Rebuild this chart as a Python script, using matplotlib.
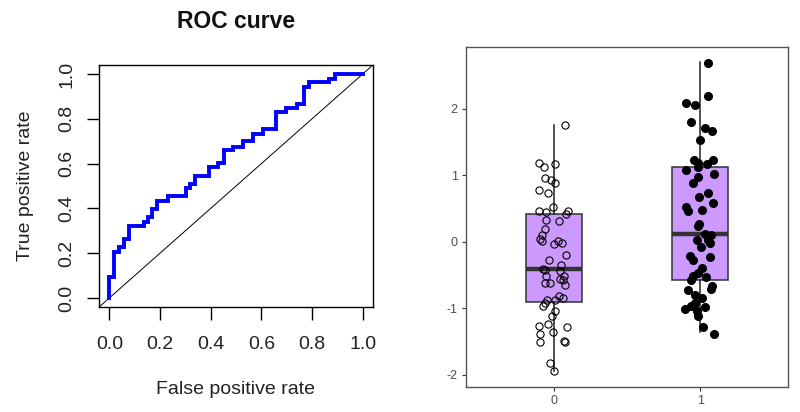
import numpy as np
import matplotlib
matplotlib.use("Agg")
import matplotlib.pyplot as plt

plt.rcParams['font.family'] = ['Liberation Sans', 'DejaVu Sans']

# ROC curve corners (steps-pre)
fpr = [0, 0.017, 0.037, 0.056, 0.076, 0.135, 0.151, 0.168, 0.188, 0.23,
       0.302, 0.319, 0.339, 0.395, 0.43, 0.453, 0.49, 0.529, 0.568, 0.605,
       0.657, 0.697, 0.739, 0.769, 0.789, 0.867, 0.89, 1.0]
tpr = [0, 0.092, 0.204, 0.226, 0.263, 0.32, 0.338, 0.36, 0.397, 0.434,
       0.454, 0.491, 0.509, 0.546, 0.583, 0.603, 0.661, 0.676, 0.702, 0.732,
       0.754, 0.829, 0.848, 0.866, 0.94, 0.963, 0.978, 1.0]
roc_ticks = [0.0, 0.2, 0.4, 0.6, 0.8, 1.0]

# boxplot groups
groups = ['0', '1']
box_q1 = [-0.91, -0.57]
box_med = [-0.41, 0.115]
box_q3 = [0.42, 1.13]
box_lo = [-1.94, -1.36]
box_hi = [1.75, 2.70]

g0_y = [1.755, 1.18, 1.12, 1.165, 0.955, 0.93, 0.89, 0.78, 0.73, 0.52,
        0.47, 0.445, 0.47, 0.42, 0.33, 0.315, 0.19, 0.105, 0.04, 0.02,
        0.02, -0.03, -0.02, -0.195, -0.28, -0.345, -0.41, -0.43, -0.445, -0.51,
        -0.52, -0.56, -0.58, -0.62, -0.62, -0.645, -0.81, -0.845, -0.88, -0.88,
        -0.92, -0.96, -1.045, -1.11, -1.23, -1.26, -1.285, -1.36, -1.385, -1.505,
        -1.485, -1.505, -1.82, -1.935]
g0_dx = [0.075, -0.10, -0.068, 0.011, -0.061, -0.016, 0.011, -0.10, -0.039, -0.005,
         -0.10, -0.052, 0.095, 0.086, -0.052, 0.034, -0.057, -0.079, -0.091, -0.079,
         0.027, 0.0, 0.057, 0.084, -0.034, 0.052, -0.075, -0.057, 0.045, -0.052,
         0.068, 0.045, 0.061, -0.057, -0.023, 0.079, 0.034, 0.063, 0.007, -0.045,
         -0.061, -0.075, 0.007, -0.011, -0.039, -0.10, 0.091, -0.005, -0.091, -0.091,
         0.068, 0.075, -0.029, 0.0]

g1_y = [2.69, 2.19, 2.095, 2.055, 1.805, 1.705, 1.67, 1.53, 1.23, 1.18,
        1.165, 1.23, 1.13, 1.08, 1.02, 0.98, 0.89, 0.73, 0.68, 0.58,
        0.52, 0.47, 0.48, 0.265, 0.24, 0.12, 0.105, 0.03, 0.03, -0.01,
        -0.07, -0.22, -0.27, -0.23, -0.395, -0.47, -0.51, -0.535, -0.58, -0.66,
        -0.72, -0.71, -0.845, -0.92, -0.97, -1.01, -0.98, -1.045, -1.11, -1.28,
        -1.38, -0.795]
g1_dx = [0.05, 0.05, -0.10, -0.032, -0.063, 0.036, 0.082, 0.0, -0.045, -0.018,
         0.045, 0.088, -0.014, -0.10, 0.095, -0.018, -0.048, 0.054, -0.007, 0.088,
         -0.10, -0.086, 0.014, -0.009, -0.018, 0.032, 0.077, -0.025, 0.054, 0.066,
         0.009, -0.07, -0.052, 0.066, 0.014, -0.018, -0.048, 0.039, -0.063, 0.082,
         -0.086, 0.073, 0.014, -0.032, -0.063, -0.104, 0.036, -0.025, -0.018, 0.02,
         0.095, -0.032]
box_yticks = [-2, -1, 0, 1, 2]

fig = plt.figure(figsize=(8, 4.12), dpi=100)

# ---- left: ROC curve
ax = fig.add_axes([0.124, 0.255, 0.342, 0.587])
ax.plot([-0.04, 1.04], [-0.04, 1.04], color='black', lw=0.7)
ax.plot(fpr, tpr, drawstyle='steps-pre', color='#0000ff', lw=2.8, solid_joinstyle='miter')
ax.set_xlim(-0.04, 1.04)
ax.set_ylim(-0.04, 1.04)
ax.set_xticks(roc_ticks)
ax.set_yticks(roc_ticks)
ax.set_xticklabels(['%.1f' % t for t in roc_ticks])
ax.set_yticklabels(['%.1f' % t for t in roc_ticks], rotation=90, va='center')
ax.tick_params(length=9, width=1, labelsize=14, colors='black', labelcolor='#222222')
ax.tick_params(axis='x', pad=12)
ax.tick_params(axis='y', pad=8)
for s in ax.spines.values():
    s.set_linewidth(1)
ax.set_title('ROC curve', fontsize=16.5, fontweight='bold', pad=27, color='#111111')
ax.set_xlabel('False positive rate', fontsize=14, labelpad=20, color='#222222')
ax.set_ylabel('True positive rate', fontsize=14, labelpad=18, color='#222222')

# ---- right: boxplot with jittered points
bx = fig.add_axes([0.5825, 0.061, 0.4025, 0.825])
stats = []
for i in range(len(groups)):
    stats.append(dict(med=box_med[i], q1=box_q1[i], q3=box_q3[i],
                      whislo=box_lo[i], whishi=box_hi[i], fliers=[]))
bx.bxp(stats, positions=[0, 1], widths=0.38, patch_artist=True, showcaps=False,
       boxprops=dict(facecolor='#cc99ff', edgecolor='#333333', lw=1.1),
       medianprops=dict(color='#333333', lw=3.2),
       whiskerprops=dict(color='#222222', lw=1.1))
bx.plot(np.array(g0_dx), g0_y, 'o', ms=5.2, mfc='none', mec='black', mew=0.8, zorder=5)
bx.plot(1 + np.array(g1_dx), g1_y, 'o', ms=5.5, mfc='black', mec='black', zorder=5)
bx.set_xlim(-0.6, 1.6)
bx.set_ylim(-2.18, 2.93)
bx.set_xticks([0, 1])
bx.set_xticklabels(groups)
bx.set_yticks(box_yticks)
bx.set_yticklabels([str(t) for t in box_yticks])
bx.tick_params(length=3, width=0.8, colors='#333333', labelcolor='#4d4d4d', labelsize=9, pad=3)
for s in bx.spines.values():
    s.set_color('#555555')
    s.set_linewidth(1)

fig.savefig('out.png', dpi=100)
